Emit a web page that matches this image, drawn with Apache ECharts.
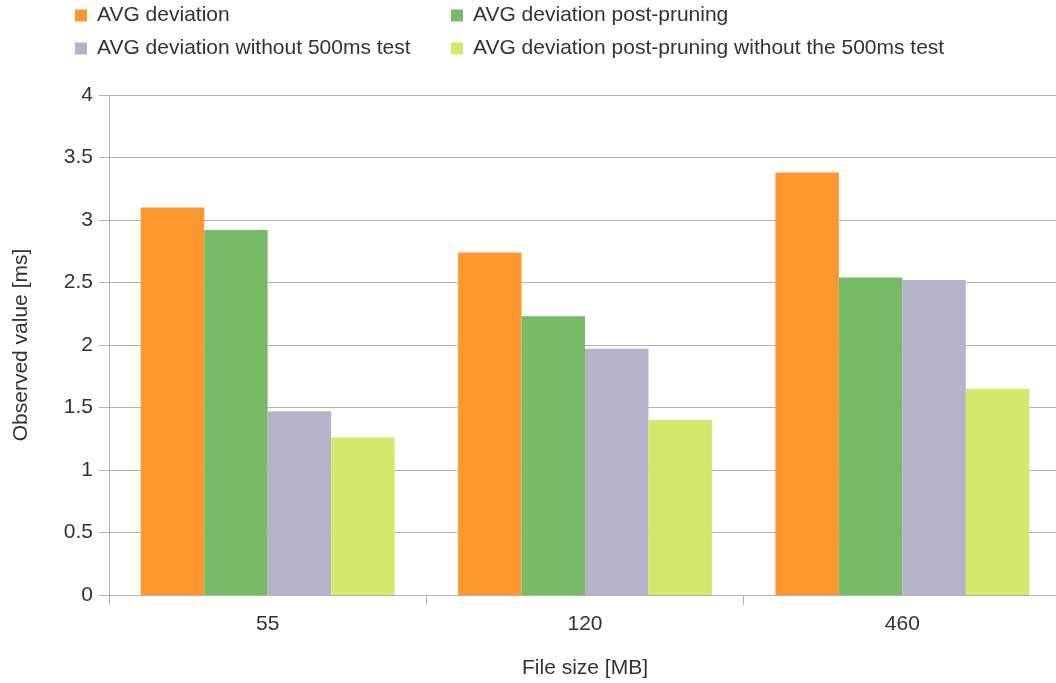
<!DOCTYPE html>
<html>
<head>
<meta charset="utf-8">
<script src="https://cdn.jsdelivr.net/npm/echarts@6/dist/echarts.min.js"></script>
<style>
  html, body { margin: 0; padding: 0; background: #fff; }
  #chart { width: 1056px; height: 683px; }
</style>
</head>
<body>
<div id="chart"></div>
<script>
// File sizes (MB) on the category axis
const fileSizes = ['55', '120', '460'];

// Series names
const seriesNames = [
  'AVG deviation',
  'AVG deviation post-pruning',
  'AVG deviation without 500ms test',
  'AVG deviation post-pruning without the 500ms test'
];

// Observed values (ms) per file size
const avgDeviation = [3.10, 2.74, 3.38];
const avgPostPruning = [2.92, 2.23, 2.54];
const avgWithout500 = [1.47, 1.97, 2.52];
const avgPostPruningWithout500 = [1.26, 1.40, 1.65];

const seriesColors = ['#fe972e', '#77bb66', '#b6b2ca', '#d4e96c'];

const font = 'Liberation Sans';
const fontSize = 21;
const textColor = '#333333';
const lineColor = '#b3b3b3';

const chart = echarts.init(document.getElementById('chart'));

const values = [avgDeviation, avgPostPruning, avgWithout500, avgPostPruningWithout500];

const legendCommon = {
  orient: 'vertical',
  top: 0,
  itemWidth: 12,
  itemHeight: 12,
  itemGap: 12,
  icon: 'rect',
  textStyle: { fontFamily: font, fontSize: fontSize, color: textColor, lineHeight: 21, padding: [0, 0, 0, 5] }
};

chart.setOption({
  animation: false,
  backgroundColor: '#ffffff',
  color: seriesColors,
  legend: [
    Object.assign({ left: 70, data: [seriesNames[0], seriesNames[2]] }, legendCommon),
    Object.assign({ left: 446, data: [seriesNames[1], seriesNames[3]] }, legendCommon)
  ],
  // the plot runs slightly past the right edge of the canvas
  grid: { left: 109, width: 952, top: 95, height: 500, outerBoundsMode: 'none' },
  xAxis: {
    type: 'category',
    data: fileSizes,
    name: 'File size [MB]',
    nameLocation: 'middle',
    nameGap: 63,
    nameTextStyle: { fontFamily: font, fontSize: fontSize, color: textColor },
    axisLine: { show: true, lineStyle: { color: lineColor, width: 1 } },
    axisTick: { show: true, length: 10, alignWithLabel: false, lineStyle: { color: lineColor } },
    axisLabel: { fontFamily: font, fontSize: fontSize, color: textColor, margin: 19 },
    splitLine: { show: false }
  },
  yAxis: {
    type: 'value',
    min: 0,
    max: 4,
    interval: 0.5,
    name: 'Observed value [ms]',
    nameLocation: 'middle',
    nameRotate: 90,
    nameGap: 77,
    nameTextStyle: { fontFamily: font, fontSize: fontSize, color: textColor },
    axisLine: { show: true, lineStyle: { color: lineColor, width: 1 } },
    axisTick: { show: true, length: 10, lineStyle: { color: lineColor } },
    axisLabel: { fontFamily: font, fontSize: fontSize, color: textColor, margin: 16 },
    splitLine: { show: true, lineStyle: { color: lineColor, width: 1 } }
  },
  series: seriesNames.map((name, i) => ({
    name: name,
    type: 'bar',
    data: values[i],
    barGap: '0%',
    barCategoryGap: '20%',
    itemStyle: { color: seriesColors[i] }
  }))
});
</script>
</body>
</html>
